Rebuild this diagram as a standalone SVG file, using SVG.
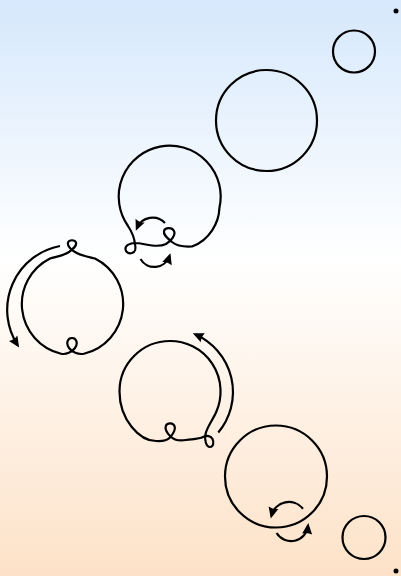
<svg xmlns="http://www.w3.org/2000/svg" width="401" height="576" viewBox="0 0 401 576">
  <defs>
    <linearGradient id="bg" x1="0" y1="0" x2="0" y2="1">
      <stop offset="0" stop-color="#d6e8fc"/>
      <stop offset="0.45" stop-color="#ffffff"/>
      <stop offset="1" stop-color="#fde2c8"/>
    </linearGradient>
    <marker id="arr" markerUnits="userSpaceOnUse" viewBox="-12 -7 16 14" markerWidth="16" markerHeight="14" refX="0" refY="0" orient="auto">
      <path d="M 3,0 L -8,-5 Q -6,0 -8,5 Z" fill="#000"/>
    </marker>
  </defs>
  <style>
    .ln { fill: none; stroke: #000; stroke-width: 2.2; stroke-linecap: round; stroke-linejoin: round; }
    .ar { fill: none; stroke: #000; stroke-width: 2.2; stroke-linecap: butt; marker-end: url(#arr); }
    .dot { fill: #000; }
  </style>
  <rect x="0" y="0" width="401" height="576" fill="url(#bg)"/>

  <g id="corner-top"><circle class="dot" cx="396" cy="11" r="2.5"/></g>
  <g id="corner-bottom"><circle class="dot" cx="396" cy="571" r="2.5"/></g>

  <g id="node-small-top"><circle class="ln" cx="354" cy="51.5" r="21"/></g>
  <g id="node-big-top"><circle class="ln" cx="266.5" cy="120.5" r="50.5"/></g>

  <g id="node-loop1">
    <path class="ln" d="M 128,226 A 51 51 0 1 1 219.4,208.1 C 219,222 210,240 192,246.5 C 185,247 177,246 172,242 C 168,238.5 163,235 164,231 C 165,227.5 172,227 174,231 C 176,235 171,241 166,244 C 162,246 157,246 152,245.5 C 146,245 141,243 135.5,243 C 129,243 125,246 125.5,249.5 C 126,252.5 129,254 132,253 C 135.5,252 136,248 135,244.5 C 134.5,238 132,232 128,226"/>
  </g>

  <g id="node-loop2">
    <path class="ln" d="M 75,252 C 80,255.5 87,256.5 95,258.5 A 51 51 0 0 1 84,353.7 C 78,355 72,352 69,348 C 66,344 67,338 72,338 C 77,338 78,344 75,348 C 72,352 66,355 61,353.7 A 51 51 0 0 1 50,258.5 C 57,256.5 64,255.5 69,252 C 73,249 77,246 76,242.5 C 75,239.5 69,239.5 68,242.5 C 67,245.5 71,250 75,252 Z"/>
  </g>

  <g id="node-loop3">
    <path class="ln" d="M 170,341 A 50.5 50.5 0 0 1 216.2,412 C 213,419.5 207,427 205.5,434 C 204.5,440 206,447 210,447 C 213.5,447 214,442 212.5,439 C 211,436 207,435 203,437 C 199,439 193,439 186,440 C 180,441 174,440 170.5,436.5 C 167,433 164.5,429 166,425.5 C 167.5,422.5 173,422.5 174.5,426 C 176,429.5 173,434 170,437.5 C 167,440.5 162,441.5 156,441 C 140,441 119.5,420 119.5,391.5 A 50.5 50.5 0 0 1 170,341 Z"/>
  </g>

  <g id="node-circle4"><circle class="ln" cx="276" cy="476.5" r="51"/></g>
  <g id="node-small-bottom"><circle class="ln" cx="364" cy="537.5" r="21.5"/></g>

  <g id="connectors">
    <path class="ar" d="M 165,223 A 17 17 0 0 0 137,228"/>
    <path class="ar" d="M 140.5,259 A 16 16 0 0 0 169.5,256"/>
    <path class="ar" d="M 60,246 A 65 65 0 0 0 17.5,345"/>
    <path class="ar" d="M 218.3,432.5 A 63 63 0 0 0 195.5,334.5"/>
    <path class="ar" d="M 303,508.7 A 18 18 0 0 0 271.5,515.5"/>
    <path class="ar" d="M 276.6,533 A 17 17 0 0 0 308,526"/>
  </g>
</svg>
